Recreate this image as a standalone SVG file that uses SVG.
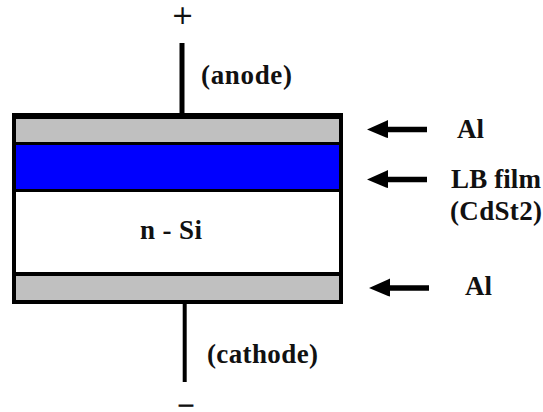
<svg xmlns="http://www.w3.org/2000/svg" width="543" height="412" viewBox="0 0 543 412">
<style>
text{font-family:"Liberation Serif","Times New Roman",serif;font-weight:bold;font-size:27px;fill:#111}
.l{fill:#000}
.w{stroke:#000;fill:none}
.a{stroke:#000;stroke-width:5.500;fill:none}
.h{fill:#000}
</style>
<rect width="543" height="412" fill="#fff"/>
<g id="device">
<rect class="l" x="12" y="113" width="331" height="191"/>
<g id="al-top"><rect x="16" y="119" width="323" height="23" fill="#c0c0c0"/></g>
<g id="lb-film"><rect x="16" y="145" width="323" height="44" fill="#0000ff"/></g>
<g id="n-si"><rect x="16" y="192" width="323" height="80" fill="#fff"/><text x="140" y="239" textLength="62">n - Si</text></g>
<g id="al-bottom"><rect x="16" y="276" width="323" height="24" fill="#c0c0c0"/></g>
</g>
<g id="connectors">
<path class="w" stroke-width="5" d="M182 43V114"/>
<path class="w" stroke-width="4" d="M184.700 303V382"/>
<path class="a" d="M380 129.500H427M380 179.500H427M382 288H429"/>
<path class="h" d="M367 129.500L386 121L388 120V138L386 137.500ZM367 179.500L386 171L388 170V188L386 187.500ZM369 288L388 279.500L390 278.500V296.500L388 296Z"/>
</g>
<g id="labels">
<text x="182.500" y="24" text-anchor="middle" style="font-family:'DejaVu Sans',sans-serif;font-size:27px;font-weight:normal">+</text>
<text x="201" y="84" textLength="91">(anode)</text>
<text x="457" y="138">Al</text>
<text x="451" y="188" textLength="90">LB film</text>
<text x="450" y="220" textLength="92">(CdSt2)</text>
<text x="465" y="295">Al</text>
<text x="207" y="363" textLength="111">(cathode)</text>
<text transform="translate(186 409.500) scale(3 1)" text-anchor="middle" style="font-size:16px;stroke:#111;stroke-width:.8px">-</text>
</g>
</svg>
